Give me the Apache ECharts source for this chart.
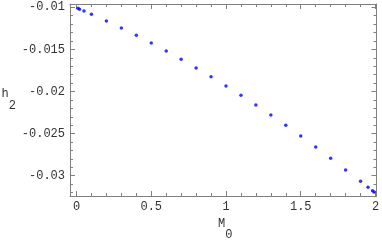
<!DOCTYPE html>
<html><head><meta charset="utf-8">
<script src="https://cdn.jsdelivr.net/npm/echarts@6/dist/echarts.min.js"></script>
<style>html,body{margin:0;padding:0;background:#fff}#c{width:382px;height:241px}</style>
</head><body><div id="c"></div>
<script>
var mValues = [0.01, 0.02, 0.05, 0.1, 0.2, 0.3, 0.4, 0.5, 0.6, 0.7, 0.8, 0.9, 1.0, 1.1, 1.2, 1.3, 1.4, 1.5, 1.6, 1.7, 1.8, 1.9, 1.95, 1.98, 1.99];
var h2Values = [-0.01012, -0.01024, -0.01044, -0.01083, -0.01163, -0.01246, -0.01333, -0.01424, -0.01520, -0.01618, -0.01721, -0.01824, -0.01935, -0.02045, -0.02160, -0.02279, -0.02401, -0.02529, -0.02659, -0.02793, -0.02932, -0.03067, -0.03138, -0.03178, -0.03194];
var xTickLabels = [0, 0.5, 1, 1.5, 2];
var yTickLabels = [-0.01, -0.015, -0.02, -0.025, -0.03];
var xMinorTicks = [0.1,0.2,0.3,0.4,0.6,0.7,0.8,0.9,1.1,1.2,1.3,1.4,1.6,1.7,1.8,1.9];
var yMinorTicks = [-0.011,-0.012,-0.013,-0.014,-0.016,-0.017,-0.018,-0.019,-0.021,-0.022,-0.023,-0.024,-0.026,-0.027,-0.028,-0.029,-0.031,-0.032];
var xRange = [-0.0435, 2.0067];
var yRange = [-0.03241, -0.00961];

var font = 'Liberation Mono';
var frameColor = '#808080';
var textColor = '#333';
function fmt(v){ return String(v); }

function mkAx(range, pos, ticks, len, showLine, showLabel, extra) {
  var a = {
    type: 'value', position: pos, min: range[0], max: range[1],
    axisLine: {show: showLine, onZero: false, lineStyle: {color: frameColor, width: 1}},
    axisTick: {show: true, inside: true, length: len, customValues: ticks, lineStyle: {color: frameColor}},
    axisLabel: showLabel ? {show: true, customValues: ticks, formatter: fmt, color: textColor, fontFamily: font, fontSize: 12, margin: 5} : {show: false},
    splitLine: {show: false}
  };
  return Object.assign(a, extra || {});
}

var chart = echarts.init(document.getElementById('c'));
chart.setOption({
  animation: false,
  grid: {left: 70, right: 5.5, top: 4, bottom: 45, containLabel: false, outerBoundsMode: 'none'},
  xAxis: [
    mkAx(xRange, 'bottom', xTickLabels, 5, true, true, {
      name: 'M \n 0', nameLocation: 'middle', nameGap: 11,
      nameTextStyle: {color: textColor, fontFamily: font, fontSize: 12, lineHeight: 11, verticalAlign: 'top', padding: [0,0,0,4]}
    }),
    mkAx(xRange, 'bottom', xMinorTicks, 3, false, false),
    mkAx(xRange, 'top', xTickLabels, 5, true, false),
    mkAx(xRange, 'top', xMinorTicks, 3, false, false)
  ],
  yAxis: [
    mkAx(yRange, 'left', yTickLabels, 5, true, true, {
      name: 'h \n 2', nameLocation: 'middle', nameGap: 53, nameRotate: 0,
      nameTextStyle: {color: textColor, fontFamily: font, fontSize: 12, lineHeight: 12, align: 'right', verticalAlign: 'middle'}
    }),
    mkAx(yRange, 'left', yMinorTicks, 3, false, false),
    mkAx(yRange, 'right', yTickLabels, 5, true, false),
    mkAx(yRange, 'right', yMinorTicks, 3, false, false)
  ],
  series: [{
    type: 'scatter', xAxisIndex: 0, yAxisIndex: 0,
    data: mValues.map(function(m, i){ return [m, h2Values[i]]; }),
    symbol: 'circle', symbolSize: 3.5,
    itemStyle: {color: '#0000ff'},
    silent: true
  }]
});
</script></body></html>
